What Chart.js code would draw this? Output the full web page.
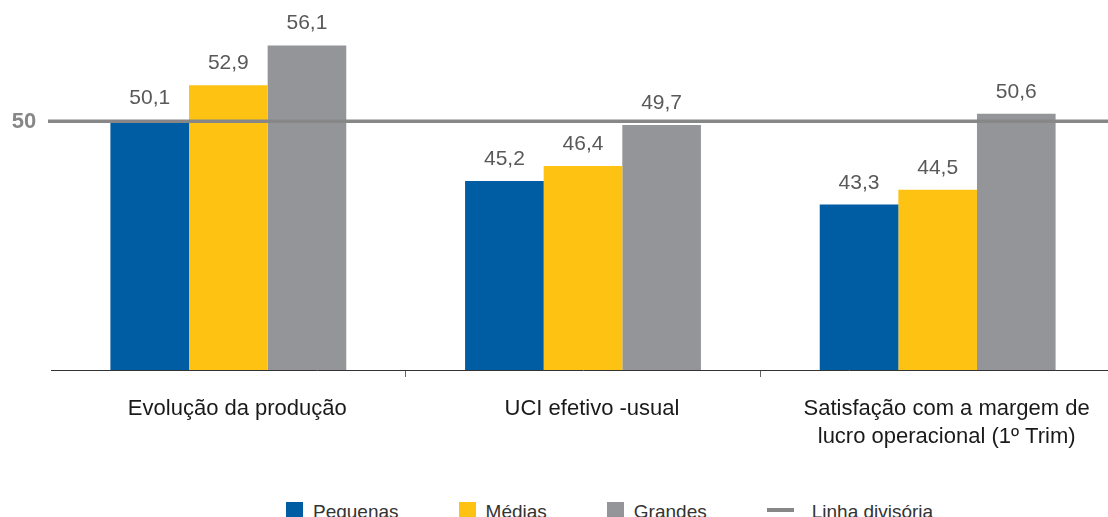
<!DOCTYPE html>
<html>
<head>
<meta charset="utf-8">
<script src="https://cdn.jsdelivr.net/npm/chart.js@4.4.1/dist/chart.umd.min.js"></script>
<style>
    html, body { margin: 0; padding: 0; background: #fff; overflow: hidden; width: 1108px; height: 517px; }
    #wrap { position: absolute; left: 0; top: 0; width: 1116px; height: 500px; }
    #legend { position: absolute; left: 0; top: 502px; width: 1108px; display: flex; align-items: flex-start;
        padding-left: 286px; box-sizing: border-box; font-family: "Liberation Sans", Arial, sans-serif;
        font-size: 19px; color: #333; line-height: 19px; }
    .item { display: flex; align-items: flex-start; margin-right: 60px; white-space: nowrap; }
    .box { width: 17px; height: 16px; margin-right: 10px; }
    .line { width: 27px; height: 4px; margin-top: 6px; margin-right: 18px; }
</style>
</head>
<body>
<div id="wrap"><canvas id="chart"></canvas></div>
<div id="legend"></div>
<script>
    // dados
    const categories = [
        ['Evolução da produção'],
        ['UCI efetivo -usual'],
        ['Satisfação com a margem de', 'lucro operacional (1º Trim)']
    ];
    const seriesNames = ['Pequenas', 'Médias', 'Grandes'];
    const pequenas = [50.1, 45.2, 43.3];
    const medias = [52.9, 46.4, 44.5];
    const grandes = [56.1, 49.7, 50.6];
    const dividerValue = 50;
    const dividerName = 'Linha divisória';

    const colors = ['#005da4', '#fdc212', '#939598'];
    const dividerColor = '#878787';
    const fontFamily = '"Liberation Sans", Arial, sans-serif';

    const fmt = (v) => v.toFixed(1).replace('.', ',');

    // labels above bars + the 50 line
    const extras = {
        id: 'extras',
        afterDatasetsDraw(chart) {
            const ctx = chart.ctx;
            const area = chart.chartArea;
            const y = chart.scales.y.getPixelForValue(dividerValue);
            ctx.save();
            ctx.strokeStyle = dividerColor;
            ctx.lineWidth = 3.5;
            ctx.beginPath();
            ctx.moveTo(area.left - 3, y);
            ctx.lineTo(area.right, y);
            ctx.stroke();

            ctx.fillStyle = '#878787';
            ctx.font = 'bold 22px ' + fontFamily;
            ctx.textAlign = 'center';
            ctx.textBaseline = 'middle';
            ctx.fillText(String(dividerValue), 24, y + 1);

            ctx.fillStyle = '#595959';
            ctx.font = '21px ' + fontFamily;
            ctx.textBaseline = 'alphabetic';
            chart.data.datasets.forEach((ds, i) => {
                chart.getDatasetMeta(i).data.forEach((bar, j) => {
                    ctx.fillText(fmt(ds.data[j]), bar.x, bar.y - 16);
                });
            });
            ctx.restore();
        }
    };

    const chart = new Chart(document.getElementById('chart'), {
        type: 'bar',
        data: {
            labels: categories,
            datasets: [pequenas, medias, grandes].map((d, i) => ({
                label: seriesNames[i],
                data: d,
                backgroundColor: colors[i],
                borderWidth: 0,
                barPercentage: 1,
                categoryPercentage: 0.665
            }))
        },
        options: {
            responsive: true,
            maintainAspectRatio: false,
            animation: false,
            layout: { padding: { left: 51, right: 1, top: 0, bottom: 0 } },
            plugins: {
                legend: { display: false },
                tooltip: { enabled: false }
            },
            scales: {
                x: {
                    afterFit: (scale) => { scale.height = 130; },
                    border: { color: '#333', width: 1 },
                    grid: {
                        offset: true,
                        drawOnChartArea: false,
                        tickLength: 7,
                        color: (c) => (c.index === 1 || c.index === 2) ? '#666' : 'transparent'
                    },
                    ticks: {
                        padding: 18,
                        labelOffset: 9,
                        color: '#1a1a1a',
                        font: { family: fontFamily, size: 22, lineHeight: 1.27 },
                        maxRotation: 0
                    }
                },
                y: {
                    display: false,
                    min: 30,
                    max: 59.75
                }
            }
        },
        plugins: [extras]
    });

    // legenda
    const legend = document.getElementById('legend');
    seriesNames.forEach((name, i) => {
        legend.innerHTML += `<div class="item"><div class="box" style="background:${colors[i]}"></div><span>${name}</span></div>`;
    });
    legend.innerHTML += `<div class="item"><div class="line" style="background:${dividerColor}"></div><span>${dividerName}</span></div>`;
</script>
</body>
</html>
